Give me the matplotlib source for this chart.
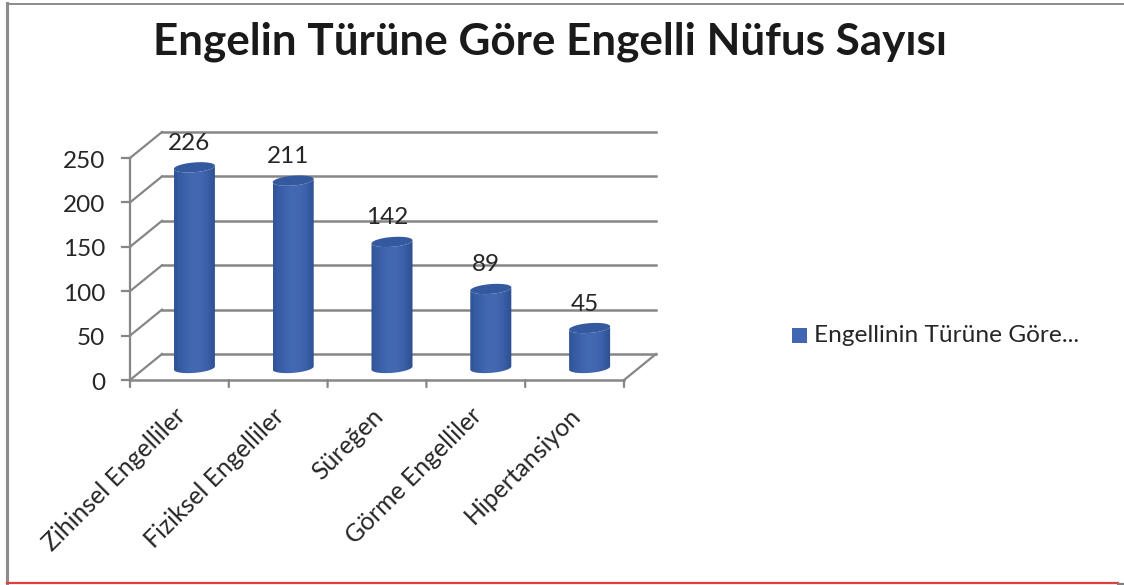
#Engelli nufus chart, fake 3D cylinders like the office chart

import numpy as np
import matplotlib
matplotlib.use('Agg')
import matplotlib.pyplot as plt
from matplotlib.colors import LinearSegmentedColormap
from matplotlib.lines import Line2D
from matplotlib.patches import Polygon, Rectangle
from matplotlib.transforms import Affine2D

plt.rcParams['font.family'] = ['Lato', 'DejaVu Sans']

categories = ['Zihinsel Engelliler', 'Fiziksel Engelliler', 'Süreğen', 'Görme Engelliler', 'Hipertansiyon']
values = [226, 211, 142, 89, 45]
y_ticks = [0, 50, 100, 150, 200, 250]
title = 'Engelin Türüne Göre Engelli Nüfus Sayısı'
legend_label = 'Engellinin Türüne Göre...'

W, H = 1124, 585
text_color = '#262626'
grid_color = '#868686'

fig = plt.figure(figsize=(W / 100, H / 100), dpi=100, facecolor='white')
# front plane of the 3D box: x 130-624 px, y 380-158 px
ax = fig.add_axes([130 / W, 1 - 380 / H, 494 / W, 222 / H])
ax.set_xlim(-0.5, 4.5)
ax.set_ylim(0, 250)
ax.axis('off')


def shifted(dx, dy):
    # offset in picture pixels, dy up
    return ax.transData + Affine2D().translate(dx, dy)


back = shifted(32, 26)
mid = shifted(15, 12)

# gridlines on back wall and side wall
for t in y_ticks:
    ax.plot([-0.5, 4.5], [t, t], color=grid_color, lw=1.8, transform=back, clip_on=False, zorder=1)
    x0, y0 = ax.transData.transform((-0.5, t))
    fig.add_artist(Line2D([x0, x0 + 32], [y0, y0 + 26], color=grid_color, lw=1.6, transform=None, zorder=1))
    fig.add_artist(Line2D([x0 - 8, x0], [y0, y0], color=grid_color, lw=1.6, transform=None, zorder=1))
    ax.annotate(str(t), (-0.5, t), xytext=(-25, -3), textcoords='offset pixels', ha='right', va='center',
                fontsize=17.5, color=text_color, annotation_clip=False)

# floor and axes
x1, y1 = ax.transData.transform((4.5, 0))
fig.add_artist(Line2D([x1, x1 + 32], [y1, y1 + 26], color=grid_color, lw=1.6, transform=None, zorder=1))
ax.plot([-0.5, 4.5], [0, 0], color=grid_color, lw=1.8, clip_on=False, zorder=1)
ax.plot([-0.5, -0.5], [0, 250], color=grid_color, lw=1.6, clip_on=False, zorder=1)
for i in range(len(categories) + 1):
    ax.annotate('', (i - 0.5, 0), xytext=(0, -7), textcoords='offset pixels', annotation_clip=False,
                arrowprops=dict(arrowstyle='-', color=grid_color, lw=1.6, shrinkA=0, shrinkB=0))

# cylinders, ends are tilted ellipses (right side higher)
bar_w = 0.415
ell_h = 11.0
tilt = 1.8
cmap = LinearSegmentedColormap.from_list('cyl', ['#2f5597', '#3a5fa8', '#4368b2', '#4468b1', '#3c60a8', '#2c4f90'])
grad = np.linspace(0, 1, 64).reshape(1, -1)
theta = np.linspace(0, np.pi, 40)
for i, v in enumerate(values):
    c = np.cos(theta)
    xs = i + bar_w / 2 * c
    lower = ell_h / 2 * np.sin(theta)
    skew = tilt * c
    outline = np.concatenate([np.column_stack([xs, v + skew - lower]),
                              np.column_stack([xs[::-1], skew[::-1] - lower[::-1]])])
    body = Polygon(outline, closed=True, transform=mid, fc='none', ec='none')
    ax.add_patch(body)
    im = ax.imshow(grad, cmap=cmap, extent=(i - bar_w / 2, i + bar_w / 2, -ell_h - tilt, v + ell_h + tilt),
                   aspect='auto', transform=mid, zorder=3, clip_on=True)
    im.set_clip_path(body)
    top_xy = np.concatenate([np.column_stack([xs, v + skew - lower]),
                             np.column_stack([xs[::-1], v + skew[::-1] + lower[::-1]])])
    ax.add_patch(Polygon(top_xy, closed=True, transform=mid, fc='#34599f', ec='none', zorder=4))
    # data label above the cylinder
    ax.annotate(str(v), (i, v), xytext=(10, 36), textcoords='offset pixels', ha='center', va='center',
                fontsize=17.5, color=text_color, zorder=5, annotation_clip=False)
    # rotated category label
    ax.annotate(categories[i], (i, 0), xytext=(-6, -24), textcoords='offset pixels', ha='right', va='top',
                rotation=45, rotation_mode='anchor', fontsize=17.8, color=text_color, annotation_clip=False)
ax.set_xlim(-0.5, 4.5)
ax.set_ylim(0, 250)

fig.text(550 / W, 1 - 42 / H, title, ha='center', va='center', fontsize=31.7, fontweight='bold', color='#1a1a1a')

# legend
fig.add_artist(Rectangle((792 / W, 1 - 343 / H), 15 / W, 15 / H, transform=fig.transFigure, fc='#4267b2', ec='none'))
fig.text(814 / W, 1 - 336 / H, legend_label, ha='left', va='center', fontsize=17.6, color=text_color)

# outer frame, scan has grey top/left and red bottom
frame = [([7, 7], [3, 583], '#8c8c8c', 2.2), ([7, W], [3.5, 3.5], '#8c8c8c', 1.4),
         ([7, 1118], [583, 583], '#e0403c', 1.6), ([1118, W], [583.5, 583.5], '#7f7f7f', 1.6)]
for xs, ys, col, lw in frame:
    fig.add_artist(Line2D([x / W for x in xs], [1 - y / H for y in ys], color=col, lw=lw, transform=fig.transFigure))

fig.savefig('out.png', dpi=100)
